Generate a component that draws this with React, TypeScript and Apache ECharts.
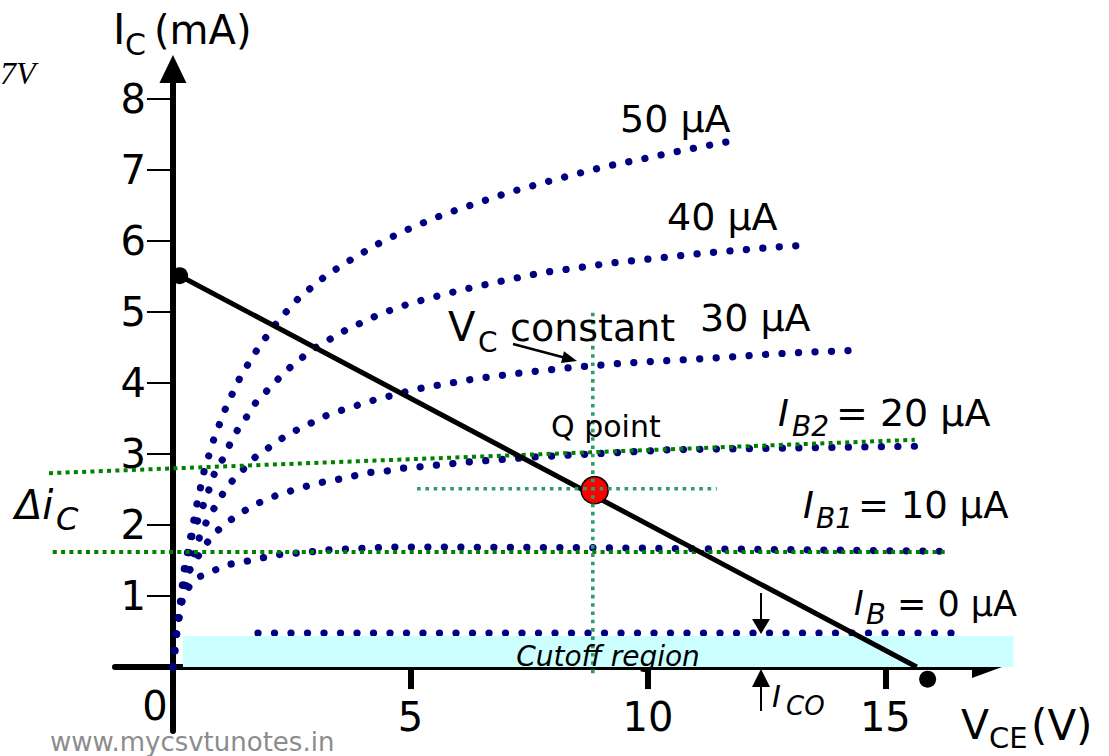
import React, { useEffect, useRef } from 'react';
import * as echarts from 'echarts';

// Output characteristics: V_CE (V) against I_C (mA) for each base current
const ib50: number[][] = [[0,0],[0.06,0.45],[0.16,0.93],[0.24,1.39],[0.38,1.86],[0.51,2.31],[0.66,2.77],[0.87,3.23],[1.13,3.68],[1.43,4.10],[1.80,4.50],[2.22,4.88],[2.67,5.21],[3.24,5.52],[3.83,5.77],[4.43,6.00],[5.07,6.20],[5.73,6.38],[6.39,6.53],[7.06,6.68],[7.75,6.81],[8.42,6.93],[9.12,7.05],[9.79,7.14],[10.48,7.24],[11.16,7.33],[11.87,7.42]];
const ib40: number[][] = [[0,0],[0.06,0.45],[0.17,0.93],[0.27,1.39],[0.40,1.85],[0.52,2.06],[0.64,2.28],[0.76,2.50],[0.87,2.72],[1.05,2.93],[1.20,3.14],[1.37,3.35],[1.57,3.54],[1.76,3.74],[2.01,3.91],[2.25,4.08],[2.50,4.24],[2.78,4.39],[3.07,4.53],[3.37,4.64],[3.68,4.76],[4.01,4.86],[4.32,4.96],[4.65,5.04],[4.99,5.12],[5.66,5.24],[6.34,5.35],[7.03,5.45],[7.75,5.55],[8.41,5.61],[9.13,5.68],[9.81,5.73],[10.52,5.78],[11.22,5.83],[11.94,5.87],[12.63,5.91],[13.32,5.94]];
const ib30: number[][] = [[0,0],[0.06,0.45],[0.19,0.93],[0.27,1.15],[0.36,1.39],[0.46,1.62],[0.57,1.85],[0.71,2.05],[0.87,2.24],[1.06,2.45],[1.27,2.64],[1.52,2.81],[1.74,2.96],[2.04,3.10],[2.34,3.24],[2.64,3.35],[2.95,3.45],[3.29,3.56],[3.62,3.63],[3.95,3.70],[4.29,3.77],[4.65,3.83],[4.97,3.89],[5.33,3.94],[6.38,4.06],[7.43,4.15],[8.44,4.22],[9.52,4.28],[10.57,4.32],[11.62,4.36],[12.67,4.41],[13.62,4.44],[14.46,4.46]];
const ib20: number[][] = [[0,0],[0.04,0.31],[0.11,0.62],[0.17,0.86],[0.23,1.08],[0.32,1.33],[0.50,1.53],[0.69,1.73],[0.92,1.91],[1.19,2.06],[1.48,2.19],[1.80,2.31],[2.11,2.40],[2.43,2.47],[2.78,2.54],[3.13,2.60],[3.46,2.64],[3.80,2.69],[4.16,2.74],[4.50,2.76],[4.85,2.80],[5.20,2.82],[6.27,2.89],[7.67,2.96],[9.09,3.01],[10.48,3.06],[11.53,3.07],[13.62,3.09],[15.73,3.11]];
const ib10: number[][] = [[0,0],[0.06,0.31],[0.11,0.69],[0.16,0.90],[0.27,1.07],[0.48,1.25],[0.80,1.34],[1.13,1.44],[1.48,1.48],[1.83,1.53],[2.17,1.58],[2.53,1.60],[2.88,1.62],[3.24,1.65],[3.59,1.66],[3.94,1.67],[4.29,1.68],[4.64,1.69],[5.31,1.69],[8.99,1.68],[16.25,1.63]];
const ib0: number[][] = [[1.79,0.48],[16.67,0.48]];

// Axis ticks
const xTicks = [5, 10, 15];
const yTicks = [1, 2, 3, 4, 5, 6, 7, 8];

// DC load line and its end points
const loadLine: number[][] = [[0.14,5.51],[15.66,0]];
const loadLineEnds: number[][] = [[0.14,5.51],[15.89,-0.17]];

// Operating point and its guide lines
const qPoint: number[][] = [[8.88,2.49]];
const qVertical: number[][] = [[8.84,4.99],[8.84,-0.14]];
const qHorizontal: number[][] = [[5.14,2.51],[11.45,2.51]];

// Delta i_C markers [x0, y0, x1, y1]
const deltaMarkers: number[][] = [[-2.61,2.73,15.62,3.20],[-2.53,1.62,16.25,1.62]];

// Cutoff region band [x0, y0, x1, y1]
const cutoffBand: number[][] = [[0.21,0,17.7,0.437]];

const FONT = '"DejaVu Sans", sans-serif';

function label(text: string, x: number, y: number, size: number, italic = false, extra: any = {}) {
  return {
    type: 'text',
    x,
    y,
    z: 100,
    silent: true,
    style: {
      text,
      fill: '#000',
      fontSize: size,
      fontFamily: FONT,
      fontStyle: italic ? 'italic' : 'normal',
      align: 'left',
      verticalAlign: 'middle',
      textAlign: 'left',
      textVerticalAlign: 'middle',
      ...extra,
    },
  };
}

function arrowHead(points: number[][]) {
  return { type: 'polygon', z: 100, silent: true, shape: { points }, style: { fill: '#000' } };
}

function segment(x1: number, y1: number, x2: number, y2: number, w: number) {
  return { type: 'line', z: 100, silent: true, shape: { x1, y1, x2, y2 }, style: { stroke: '#000', lineWidth: w } };
}

const navyDots = { color: '#000080', width: 7.2, type: [0.1, 16.4], cap: 'round' };
const qDots = { color: '#2f9b6a', width: 3.6, type: [3.6, 4.7] };

function curve(name: string, data: number[][]) {
  return { type: 'line', name, data, symbol: 'none', showSymbol: false, silent: true, z: 2, lineStyle: navyDots };
}

const option: any = {
  animation: false,
  backgroundColor: '#fff',
  textStyle: { fontFamily: FONT },
  grid: { left: 115, top: 69, width: 872, height: 662, containLabel: false, outerBoundsMode: 'none' },
  xAxis: {
    type: 'value',
    min: -1.22,
    max: 17.14,
    splitLine: { show: false },
    axisLine: { onZero: true, lineStyle: { color: '#000', width: 6 }, symbol: ['none', 'triangle'], symbolSize: [22, 30] },
    axisTick: { show: true, customValues: xTicks, length: 22, lineStyle: { color: '#000', width: 6 } },
    axisLabel: { customValues: xTicks, color: '#000', fontSize: 40, fontFamily: FONT, margin: -34 },
  },
  yAxis: {
    type: 'value',
    min: -0.9,
    max: 8.42,
    splitLine: { show: false },
    axisLine: { onZero: true, lineStyle: { color: '#000', width: 6 }, symbol: ['none', 'triangle'], symbolSize: [27, 28] },
    axisTick: { show: true, customValues: yTicks, length: 26, lineStyle: { color: '#000', width: 2 } },
    axisLabel: { customValues: yTicks, color: '#000', fontSize: 40, fontFamily: FONT, margin: -31 },
  },
  series: [
    curve('IB 50', ib50),
    curve('IB 40', ib40),
    curve('IB 30', ib30),
    curve('IB 20', ib20),
    curve('IB 10', ib10),
    curve('IB 0', ib0),
    {
      type: 'custom',
      name: 'Cutoff',
      z: 3,
      silent: true,
      data: cutoffBand,
      renderItem: (_p: any, api: any) => {
        const a = api.coord([api.value(0), api.value(3)]);
        const b = api.coord([api.value(2), api.value(1)]);
        return { type: 'rect', shape: { x: a[0], y: a[1], width: b[0] - a[0], height: b[1] - a[1] }, style: { fill: '#ccffff' } };
      },
    },
    {
      type: 'custom',
      name: 'Delta iC',
      z: 4,
      silent: true,
      data: deltaMarkers,
      renderItem: (_p: any, api: any) => {
        const a = api.coord([api.value(0), api.value(1)]);
        const b = api.coord([api.value(2), api.value(3)]);
        return {
          type: 'line',
          shape: { x1: a[0], y1: a[1], x2: b[0], y2: b[1] },
          style: { stroke: '#008000', lineWidth: 4, lineDash: [4, 4.3], fill: null },
        };
      },
    },
    { type: 'line', data: loadLine, symbol: 'none', silent: true, z: 5, lineStyle: { color: '#000', width: 5 } },
    { type: 'scatter', data: loadLineEnds, symbolSize: 17, silent: true, clip: false, z: 6, itemStyle: { color: '#000', opacity: 1 } },
    { type: 'scatter', data: qPoint, symbolSize: 27, silent: true, z: 6, itemStyle: { color: '#ff0000', opacity: 1, borderColor: '#000', borderWidth: 1.5 } },
    { type: 'line', data: qVertical, symbol: 'none', silent: true, clip: false, z: 7, lineStyle: qDots },
    { type: 'line', data: qHorizontal, symbol: 'none', silent: true, z: 7, lineStyle: qDots },
  ],
  graphic: {
    elements: [
      label('I', 113, 29, 42),
      label('C', 125, 44, 30),
      label('(mA)', 154, 30, 40),
      label('V', 961, 725, 41),
      label('CE', 989, 738, 29),
      label('(V)', 1031, 725, 42),
      label('0', 155, 706, 40, false, { align: 'center', textAlign: 'center' }),
      label('50 µA', 620, 119, 38),
      label('40 µA', 667, 217, 38),
      label('30 µA', 700, 318, 38),
      label('V', 448, 327, 40),
      label('C', 478, 342, 28),
      label('constant', 510, 328, 38),
      label('Q point', 551, 426, 30),
      label('I', 778, 413, 37, true),
      label('B2', 792, 426, 28, true),
      label('= 20 µA', 836, 413, 38),
      label('I', 803, 505, 37, true),
      label('B1', 816, 518, 28, true),
      label('= 10 µA', 858, 505, 37),
      label('I', 854, 603, 33, true),
      label('B', 866, 614, 29, true),
      label('= 0 µA', 897, 604, 35),
      label('Δi', 15, 505, 40, true),
      label('C', 56, 519, 32, true),
      label('I', 772, 696, 30, true),
      label('CO', 786, 706, 26, true),
      label('Cutoff region', 608, 656, 28, true, { align: 'center', textAlign: 'center' }),
      label('www.mycsvtunotes.in', 50, 742, 26, false, { fill: '#8c8c8c' }),
      label('7V', 0, 73, 32, true, { fontFamily: '"Liberation Serif", serif' }),
      // V_C constant pointer
      segment(513, 344, 564, 357.5, 2.5),
      arrowHead([[577, 361], [564, 351.3], [561, 362.9]]),
      // I_CO pointers
      segment(761, 593, 761, 620, 2),
      arrowHead([[752, 619], [770, 619], [761, 634]]),
      segment(761, 686, 761, 711, 2),
      arrowHead([[752, 687], [770, 687], [761, 669]]),
    ],
  },
};

export default function App() {
  const ref = useRef<HTMLDivElement>(null);
  useEffect(() => {
    const chart = echarts.init(ref.current as HTMLDivElement, undefined, { renderer: 'svg' });
    chart.setOption(option);
    return () => chart.dispose();
  }, []);
  return <div ref={ref} style={{ position: 'fixed', left: 0, top: 0, width: 1109, height: 756, background: '#fff' }} />;
}
